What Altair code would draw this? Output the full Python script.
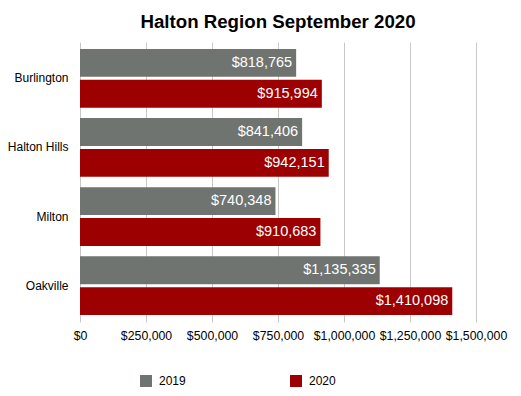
import altair as alt
import pandas as pd

cities = ["Burlington", "Halton Hills", "Milton", "Oakville"]
v2019 = [818765, 841406, 740348, 1135335]
v2020 = [915994, 942151, 910683, 1410098]
years = ["2019", "2020"]
colors = ["#6f7471", "#9c0000"]
ticks = [0, 250000, 500000, 750000, 1000000, 1250000, 1500000]

rows = []
for c, a, b in zip(cities, v2019, v2020):
    rows.append({"city": c, "year": "2019", "value": a})
    rows.append({"city": c, "year": "2020", "value": b})
df = pd.DataFrame(rows)

FONT = "Liberation Sans"

y = alt.Y("city:N", sort=cities, title=None,
          scale=alt.Scale(paddingInner=0.15, paddingOuter=0.1),
          axis=alt.Axis(ticks=False, domain=False, labelFontSize=12, labelColor="#000",
                        labelPadding=12, labelFont=FONT))
yoff = alt.YOffset("year:N", sort=years, scale=alt.Scale(paddingInner=0.1))

x = alt.X("value:Q", title=None,
          scale=alt.Scale(domain=[0, 1500000], nice=False),
          axis=alt.Axis(values=ticks, format="$,.0f", labelFontSize=12.3, labelColor="#000",
                        labelFont=FONT, labelOverlap=False, labelFlush=False,
                        grid=True, gridColor="#c8c8c8", domain=False, ticks=False,
                        labelPadding=7))

bars = alt.Chart(df).mark_bar().encode(
    x=x, y=y, yOffset=yoff,
    color=alt.Color("year:N", sort=years, title=None,
                    scale=alt.Scale(domain=years, range=colors),
                    legend=alt.Legend(orient="none", legendX=60, legendY=333, direction="horizontal",
                                      symbolType="square", symbolSize=144, symbolStrokeWidth=0,
                                      labelFontSize=12, labelFont=FONT, labelColor="#000",
                                      columnPadding=104, labelOffset=7)),
)

labels = alt.Chart(df).mark_text(align="right", baseline="middle", dx=-4, color="white",
                                 fontSize=14.5, font=FONT).encode(
    x="value:Q", y=alt.Y("city:N", sort=cities), yOffset=alt.YOffset("year:N", sort=years),
    text=alt.Text("value:Q", format="$,.0f"),
)

chart = (bars + labels).properties(
    width=396, height=280,
    autosize=alt.AutoSizeParams(type="none"),
    title=alt.TitleParams("Halton Region September 2020", fontSize=18.7, font=FONT,
                          fontWeight="bold", color="#000", anchor="middle", offset=10),
    padding={"left": 72, "top": 34, "right": 37, "bottom": 66},
).configure_view(stroke=None)

chart.save("out.html", embed_options={"renderer": "svg", "actions": False})
